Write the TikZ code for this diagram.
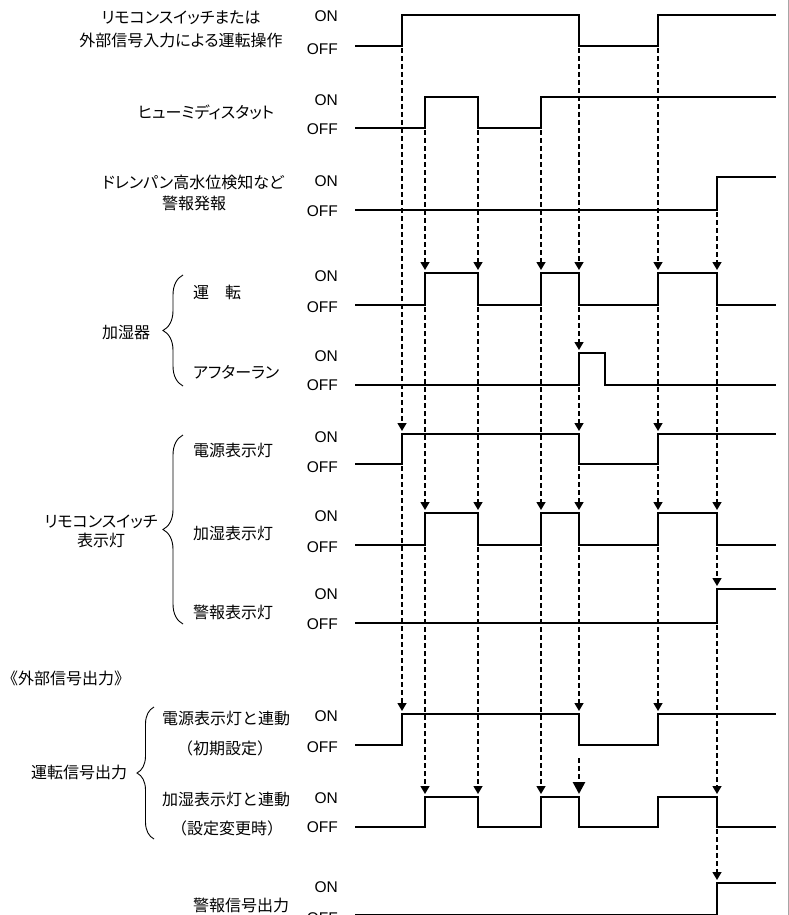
\documentclass[tikz,border=0pt]{standalone}
\usepackage{fontspec}
\setmainfont{Noto Sans CJK JP}
\newfontfamily\jpp{Noto Sans CJK JP}[RawFeature=+palt]
\newfontfamily\latf{Liberation Sans}
\usetikzlibrary{arrows.meta,decorations.pathreplacing}
\begin{document}
\begin{tikzpicture}[x=1pt,y=-1pt,
  sig/.style={line width=2.3pt, line join=miter},
  dsh/.style={line width=1.4pt, dash pattern=on 5pt off 3pt, -{Triangle[length=8pt,width=9pt]}},
  bigdsh/.style={line width=2.6pt, dash pattern=on 5pt off 3pt, -{Triangle[length=12pt,width=12pt]}},
  onoff/.style={font=\latf\fontsize{15.5pt}{18pt}\selectfont, anchor=east, inner sep=0pt, text height=11.1pt, text depth=0pt},
  jp/.style={font=\fontsize{16pt}{20pt}\selectfont, inner sep=0pt, text height=14.1pt, text depth=1.9pt},
  jpk/.style={jp, font=\jpp\fontsize{16pt}{20pt}\selectfont},
  brc/.style={decorate, decoration={brace, amplitude=#1}, line width=0.9pt}
]
\useasboundingbox (0,0) rectangle (789,915);
\fill[white] (0,0) rectangle (789,915);
\draw[gray!70, line width=1pt] (788,0) -- (788,915);

% ---------- ON / OFF labels ----------
\foreach \n/\yon/\yoff in {a/16/49, b/100/129, c/181/211, d/276/307, e/356/385, f/437/467, g/516/547, h/594/624, i/716/747, j/798/827, k/887/918}{
  \node[onoff] (on\n) at (338,\yon) {ON};
  \node[onoff] (off\n) at (338,\yoff) {OFF};
}

% ---------- signals ----------
\draw[sig] (355,46) -- (402,46) -- (402,15) -- (579,15) -- (579,46) -- (658,46) -- (658,15) -- (776,15);
\draw[sig] (355,128) -- (425,128) -- (425,97) -- (478,97) -- (478,128) -- (541,128) -- (541,97) -- (776,97);
\draw[sig] (355,210) -- (717,210) -- (717,177) -- (776,177);
\foreach \on/\off in {273/305, 513/545, 797/827}{
  \draw[sig] (355,\off) -- (425,\off) -- (425,\on) -- (478,\on) -- (478,\off) -- (541,\off) -- (541,\on) -- (579,\on) -- (579,\off) -- (658,\off) -- (658,\on) -- (717,\on) -- (717,\off) -- (776,\off);
}
\draw[sig] (355,385) -- (579,385) -- (579,353) -- (605,353) -- (605,385) -- (776,385);
\foreach \on/\off in {434/464, 714/745}{
  \draw[sig] (355,\off) -- (402,\off) -- (402,\on) -- (579,\on) -- (579,\off) -- (658,\off) -- (658,\on) -- (776,\on);
}
\draw[sig] (355,623) -- (717,623) -- (717,589) -- (776,589);
\draw[sig] (355,915) -- (717,915) -- (717,883) -- (776,883);

% ---------- dashed arrows ----------
\foreach \x/\ya/\yb in {
  402/48/431, 402/466/711,
  425/130/270, 425/307/510, 425/547/794,
  478/130/270, 478/307/510, 478/547/794,
  541/130/270, 541/307/510, 541/547/794,
  579/48/270, 579/307/350, 579/387/431, 579/466/510, 579/547/711,
  658/48/270, 658/307/431, 658/466/510, 658/547/711,
  717/212/270, 717/307/510, 717/547/586, 717/625/794, 717/829/880}{
  \draw[dsh] (\x,\ya) -- (\x,\yb);
}
\draw[bigdsh] (579,758) -- (579,794);

% ---------- left labels ----------
\node[jpk] (t1a) at (181,17) {リモコンスイッチまたは};
\node[jpk] (t1b) at (181,40) {外部信号入力による運転操作};
\node[jpk] (t2) at (206,112) {ヒューミディスタット};
\node[jpk] (t3a) at (193,182) {ドレンパン高水位検知など};
\node[jp] (t3b) at (194,203) {警報発報};

\node[jp] (kashitsuki) at (126,332) {加湿器};
\node[jp, anchor=west] (unten) at (193,292) {運　転};
\node[jpk, anchor=west] (after) at (193,372) {アフターラン};
\draw[brc=20pt] (183,386) -- (183,275);

\node[jpk] (rc1) at (101,521) {リモコンスイッチ};
\node[jp] (rc2) at (101,540) {表示灯};
\node[jp, anchor=west] (dengen) at (193,450) {電源表示灯};
\node[jp, anchor=west] (kashitsu) at (193,533) {加湿表示灯};
\node[jp, anchor=west] (keiho) at (193,612) {警報表示灯};
\draw[brc=20pt] (183,624) -- (183,435);

\node[jp, anchor=west] (gaibu) at (2,678) {《外部信号出力》};

\node[jp] (untensig) at (79,772) {運転信号出力};
\node[jp] (o1a) at (226,718) {電源表示灯と連動};
\node[jp] (o1b) at (225,748) {（初期設定）};
\node[jp] (o2a) at (226,799) {加湿表示灯と連動};
\node[jp] (o2b) at (227,828) {（設定変更時）};
\draw[brc=17pt] (154,839) -- (154,707);

\node[jp] (keihosig) at (241,905) {警報信号出力};
\end{tikzpicture}
\end{document}
